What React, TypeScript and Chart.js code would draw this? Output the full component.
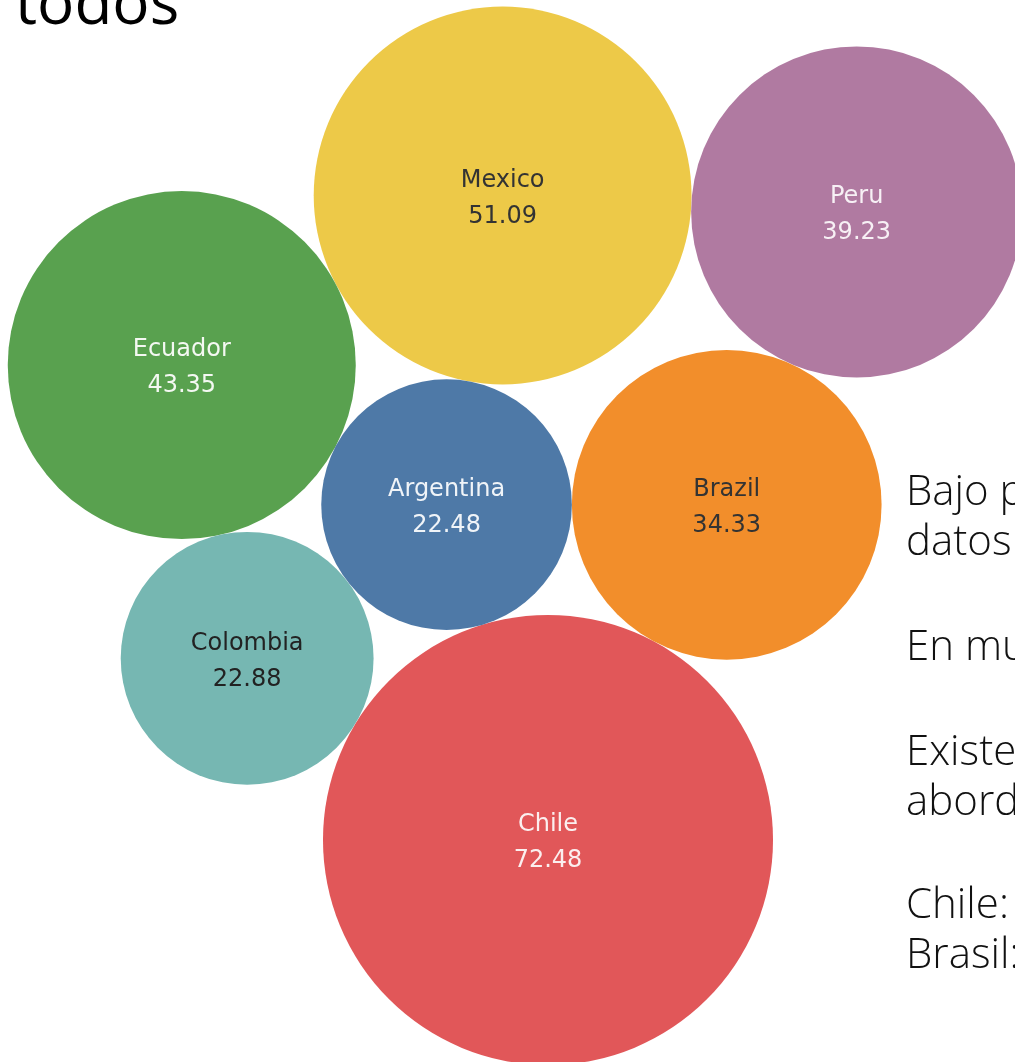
import React, { useEffect, useRef } from "react";
import { Chart, registerables } from "chart.js";

Chart.register(...registerables);

// ---- data ----
const countries = ["Chile", "Mexico", "Ecuador", "Peru", "Brazil", "Colombia", "Argentina"];
const values = [72.48, 51.09, 43.35, 39.23, 34.33, 22.88, 22.48];
const colors = ["#E15759", "#EDC948", "#59A14F", "#B07AA1", "#F28E2B", "#76B7B2", "#4E79A7"];
const labelColors = ["#FBEFEF", "#333333", "#F4F8F2", "#F7F0F5", "#333333", "#222222", "#F0F4F8"];

const titleText = "todos";
const noteLines = [
  "Bajo porcentaje de acceso a los",
  "datos de salud en la región",
  "En muchos países no hay registros",
  "Existen diferencias en el",
  "abordaje de cada país",
  "Chile: mayor valor",
  "Brasil: valor intermedio",
];
const noteBaselines = [505, 555, 660, 765, 815, 918, 968];

// ---- packing (area proportional to value, circles tangent to neighbours) ----
const W = 1015;
const H = 1062;
const RADIUS_PER_SQRT = 26.43;
const ANCHOR = { x: 548, y: 840 };
const FIRST_ANGLE = Math.atan2(-335.5, -101.5);

type C = { x: number; y: number; r: number };

function tangent(a: C, b: C, r: number, side: number): C {
  const dx = b.x - a.x;
  const dy = b.y - a.y;
  const d = Math.hypot(dx, dy);
  const da = a.r + r;
  const db = b.r + r;
  const along = (da * da - db * db + d * d) / (2 * d);
  const h = Math.sqrt(Math.max(0, da * da - along * along));
  const ux = dx / d;
  const uy = dy / d;
  const px = -uy;
  const py = ux;
  return { x: a.x + along * ux + side * h * px, y: a.y + along * uy + side * h * py, r };
}

function pack(): C[] {
  const rad = values.map((v) => RADIUS_PER_SQRT * Math.sqrt(v));
  const idx = (n: string) => countries.indexOf(n);
  const out: C[] = new Array(values.length);
  const chile: C = { x: ANCHOR.x, y: ANCHOR.y, r: rad[idx("Chile")] };
  out[idx("Chile")] = chile;
  const rA = rad[idx("Argentina")];
  const arg: C = {
    x: chile.x + (chile.r + rA) * Math.cos(FIRST_ANGLE),
    y: chile.y + (chile.r + rA) * Math.sin(FIRST_ANGLE),
    r: rA,
  };
  out[idx("Argentina")] = arg;
  const bra = tangent(chile, arg, rad[idx("Brazil")], 1);
  out[idx("Brazil")] = bra;
  const col = tangent(chile, arg, rad[idx("Colombia")], -1);
  out[idx("Colombia")] = col;
  const ecu = tangent(col, arg, rad[idx("Ecuador")], -1);
  out[idx("Ecuador")] = ecu;
  const mex = tangent(ecu, arg, rad[idx("Mexico")], -1);
  out[idx("Mexico")] = mex;
  const per = tangent(mex, bra, rad[idx("Peru")], -1);
  out[idx("Peru")] = per;
  return out;
}

const labelPlugin = {
  id: "bubbleLabels",
  afterDatasetsDraw(chart: any) {
    const { ctx } = chart;
    const meta = chart.getDatasetMeta(0);
    const xs = chart.scales.x;
    const ys = chart.scales.y;
    const ds = chart.data.datasets[0];
    ctx.save();
    ctx.font = "24px 'DejaVu Sans'";
    ctx.textAlign = "center";
    ctx.textBaseline = "middle";
    meta.data.forEach((_el: any, i: number) => {
      const p = ds.data[i];
      const cx = xs.getPixelForValue(p.x);
      const cy = ys.getPixelForValue(p.y);
      ctx.fillStyle = labelColors[i];
      ctx.fillText(countries[i], cx, cy - 15);
      ctx.fillText(values[i].toFixed(2), cx, cy + 21);
    });
    ctx.restore();
  },
};

export default function App() {
  const ref = useRef<HTMLCanvasElement | null>(null);

  useEffect(() => {
    document.body.style.margin = "0";
    if (!ref.current) return;
    const circles = pack();
    const chart = new Chart(ref.current, {
      type: "bubble",
      data: {
        datasets: [
          {
            label: "Valor",
            data: circles.map((c) => ({ x: c.x, y: c.y, r: c.r })),
            backgroundColor: colors,
            borderWidth: 0,
            hoverBorderWidth: 0,
            clip: false,
          } as any,
        ],
      },
      options: {
        animation: false,
        responsive: false,
        devicePixelRatio: 1,
        layout: { padding: 0, autoPadding: false } as any,
        events: [],
        plugins: { legend: { display: false }, tooltip: { enabled: false } },
        scales: {
          x: { type: "linear", min: 0, max: W, display: false },
          y: { type: "linear", min: 0, max: H, reverse: true, display: false },
        },
      },
      plugins: [labelPlugin],
    });
    return () => chart.destroy();
  }, []);

  return (
    <div style={{ position: "relative", width: W, height: H, overflow: "hidden", background: "#ffffff" }}>
      <canvas ref={ref} width={W} height={H} style={{ position: "absolute", left: 0, top: 0 }} />
      <div
        style={{
          position: "absolute",
          left: 15,
          top: -42,
          fontFamily: "'Open Sans', sans-serif",
          fontSize: 62,
          lineHeight: "84px",
          color: "#000",
          whiteSpace: "nowrap",
        }}
      >
        {titleText}
      </div>
      {noteLines.map((t, i) => (
        <div
          key={i}
          style={{
            position: "absolute",
            left: 906,
            top: noteBaselines[i] - 45,
            fontFamily: "'Open Sans', sans-serif",
            fontWeight: 300,
            fontSize: 42,
            lineHeight: "57px",
            color: "#111",
            whiteSpace: "nowrap",
          }}
        >
          {t}
        </div>
      ))}
    </div>
  );
}
